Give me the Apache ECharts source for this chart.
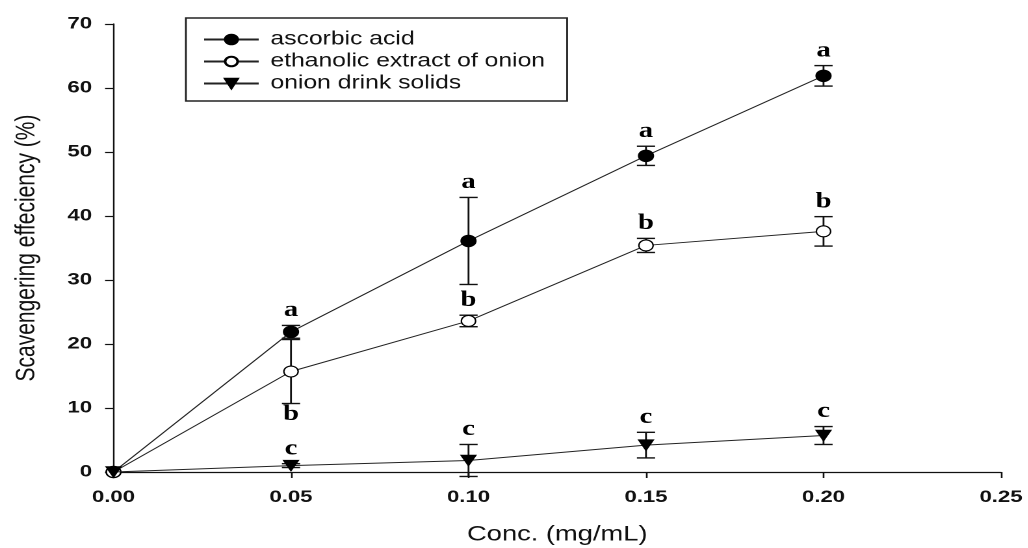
<!DOCTYPE html>
<html>
<head>
<meta charset="utf-8">
<title>Scavenging efficiency</title>
<script src="https://cdn.jsdelivr.net/npm/echarts@6/dist/echarts.min.js"></script>
<style>
  html, body { margin: 0; padding: 0; background: #fff; overflow: hidden; }
  /* the figure is laid out narrow and widened horizontally */
  #chart { width: 791px; height: 548px; transform: scaleX(1.3); transform-origin: 0 0; }
</style>
</head>
<body>
<div id="chart"></div>
<script>
// Concentration (mg/mL)
const concentrations = [0, 0.05, 0.10, 0.15, 0.20];

// Scavenging efficiency (%) and standard deviations
const ascorbicAcid = [0, 21.9, 36.1, 49.4, 61.9];
const ascorbicErr = [0, 1.0, 6.8, 1.5, 1.6];
const ethanolicExtract = [0, 15.7, 23.6, 35.4, 37.6];
const ethanolicErr = [0, 5.0, 0.9, 1.1, 2.3];
const onionDrink = [0, 1.0, 1.8, 4.2, 5.7];
const onionErr = [0, 0.3, 2.5, 2.0, 1.4];

// Significance letters per concentration
const ascorbicLetters = ['', 'a', 'a', 'a', 'a'];
const ethanolicLetters = ['', 'b', 'b', 'b', 'b'];
const onionLetters = ['', 'c', 'c', 'c', 'c'];

// Axis ticks
const xTicks = [0, 0.05, 0.10, 0.15, 0.20, 0.25];
const yTicks = [0, 10, 20, 30, 40, 50, 60, 70];

const seriesNames = ['ascorbic acid', 'ethanolic extract of onion', 'onion drink solids'];
const groups = [
  { values: ascorbicAcid, errs: ascorbicErr, letters: ascorbicLetters },
  { values: ethanolicExtract, errs: ethanolicErr, letters: ethanolicLetters },
  { values: onionDrink, errs: onionErr, letters: onionLetters }
];

// rows for the error-bar series: [x, mean, low, high, letter, letterBelow]
function errorRows(gi) {
  const g = groups[gi];
  return concentrations.map((x, i) => {
    const hi = g.values[i] + g.errs[i];
    const lo = g.values[i] - g.errs[i];
    // a letter goes underneath when the series above crowds the space over the bar
    let below = 0;
    if (gi > 0) {
      const up = groups[gi - 1];
      const upLow = up.values[i] - up.errs[i];
      if (upLow - hi < 3 && upLow >= hi - 1) below = 1;
    }
    return [x, g.values[i], lo, hi, g.letters[i], below];
  });
}

function renderErrorBar(params, api) {
  const x = api.value(0);
  const top = api.coord([x, api.value(3)]);
  const bot = api.coord([x, api.value(2)]);
  const capHalf = 7;
  const letter = api.value(4);
  const below = api.value(5);
  const style = { stroke: '#111', lineWidth: 1.4 };
  const children = [];
  if (api.value(3) - api.value(2) > 0) {
    children.push(
      { type: 'line', shape: { x1: top[0], y1: top[1], x2: bot[0], y2: bot[1] }, style },
      { type: 'line', shape: { x1: top[0] - capHalf, y1: top[1], x2: top[0] + capHalf, y2: top[1] }, style },
      { type: 'line', shape: { x1: bot[0] - capHalf, y1: bot[1], x2: bot[0] + capHalf, y2: bot[1] }, style }
    );
  }
  if (letter) {
    children.push({
      type: 'text',
      x: top[0],
      y: below ? bot[1] : top[1] - 4,
      style: {
        text: letter,
        font: 'bold 22px "Liberation Serif", "Times New Roman", serif',
        fill: '#000',
        align: 'center',
        verticalAlign: below ? 'top' : 'bottom'
      }
    });
  }
  return { type: 'group', children };
}

const lineStyle = { color: '#222', width: 1 };
const markers = [
  { symbol: 'circle', symbolSize: 11.5, itemStyle: { color: '#000', borderColor: '#000', borderWidth: 1 } },
  { symbol: 'circle', symbolSize: 11, itemStyle: { color: '#fff', borderColor: '#000', borderWidth: 1.1 } },
  { symbol: 'triangle', symbolSize: [11.5, 10.5], symbolRotate: 180, itemStyle: { color: '#000', borderColor: '#000', borderWidth: 1 } }
];

const series = [];
groups.forEach((g, gi) => {
  series.push({
    type: 'custom',
    name: seriesNames[gi] + ' SD',
    renderItem: renderErrorBar,
    data: errorRows(gi),
    encode: { x: 0, y: [2, 3] },
    clip: false,
    z: 2,
    silent: true
  });
});
groups.forEach((g, gi) => {
  series.push(Object.assign({
    type: 'line',
    name: seriesNames[gi],
    data: concentrations.map((x, i) => [x, g.values[i]]),
    lineStyle: lineStyle,
    showAllSymbol: true,
    clip: false,
    z: 3 + (gi === 2 ? 1 : 0),
    animation: false
  }, markers[gi]));
});

const tickFont = {
  fontFamily: '"Liberation Sans", Arial, sans-serif',
  fontSize: 17,
  fontWeight: 'bold',
  color: '#111'
};

const chart = echarts.init(document.getElementById('chart'), null, { devicePixelRatio: 2 });
chart.setOption({
  animation: false,
  backgroundColor: '#fff',
  grid: { left: 87.3, right: 21, top: 24, bottom: 76, containLabel: false, outerBoundsMode: 'none' },
  legend: {
    data: seriesNames,
    orient: 'vertical',
    left: 143,
    top: 18,
    padding: [12, 17, 8, 13],
    itemWidth: 42,
    itemHeight: 12,
    itemGap: 3,
    borderColor: '#222',
    borderWidth: 1.4,
    textStyle: {
      fontFamily: '"Liberation Sans", Arial, sans-serif',
      fontSize: 19,
      color: '#111',
      padding: [0, 0, 0, 4]
    }
  },
  xAxis: {
    type: 'value',
    min: xTicks[0],
    max: xTicks[xTicks.length - 1],
    interval: xTicks[1] - xTicks[0],
    name: 'Conc. (mg/mL)',
    nameLocation: 'middle',
    nameGap: 52,
    nameTextStyle: { fontFamily: '"Liberation Sans", Arial, sans-serif', fontSize: 21, color: '#111' },
    axisLine: { lineStyle: { color: '#111', width: 1.3 } },
    axisTick: { inside: false, length: 6, lineStyle: { color: '#111', width: 1.3 } },
    axisLabel: Object.assign({ margin: 17, formatter: v => v.toFixed(2) }, tickFont),
    splitLine: { show: false }
  },
  yAxis: {
    type: 'value',
    min: yTicks[0],
    max: yTicks[yTicks.length - 1],
    interval: yTicks[1] - yTicks[0],
    name: 'Scavengering effeciency (%)',
    nameLocation: 'middle',
    nameGap: 56,
    nameTextStyle: {
      fontFamily: '"Liberation Sans", Arial, sans-serif',
      fontSize: 21,
      color: '#111'
    },
    axisLine: { show: true, lineStyle: { color: '#111', width: 1.2 } },
    axisTick: { show: true, inside: false, length: 6.5, lineStyle: { color: '#111', width: 1.2 } },
    axisLabel: Object.assign({ margin: 16.5 }, tickFont),
    splitLine: { show: false }
  },
  series: series
});
</script>
</body>
</html>
